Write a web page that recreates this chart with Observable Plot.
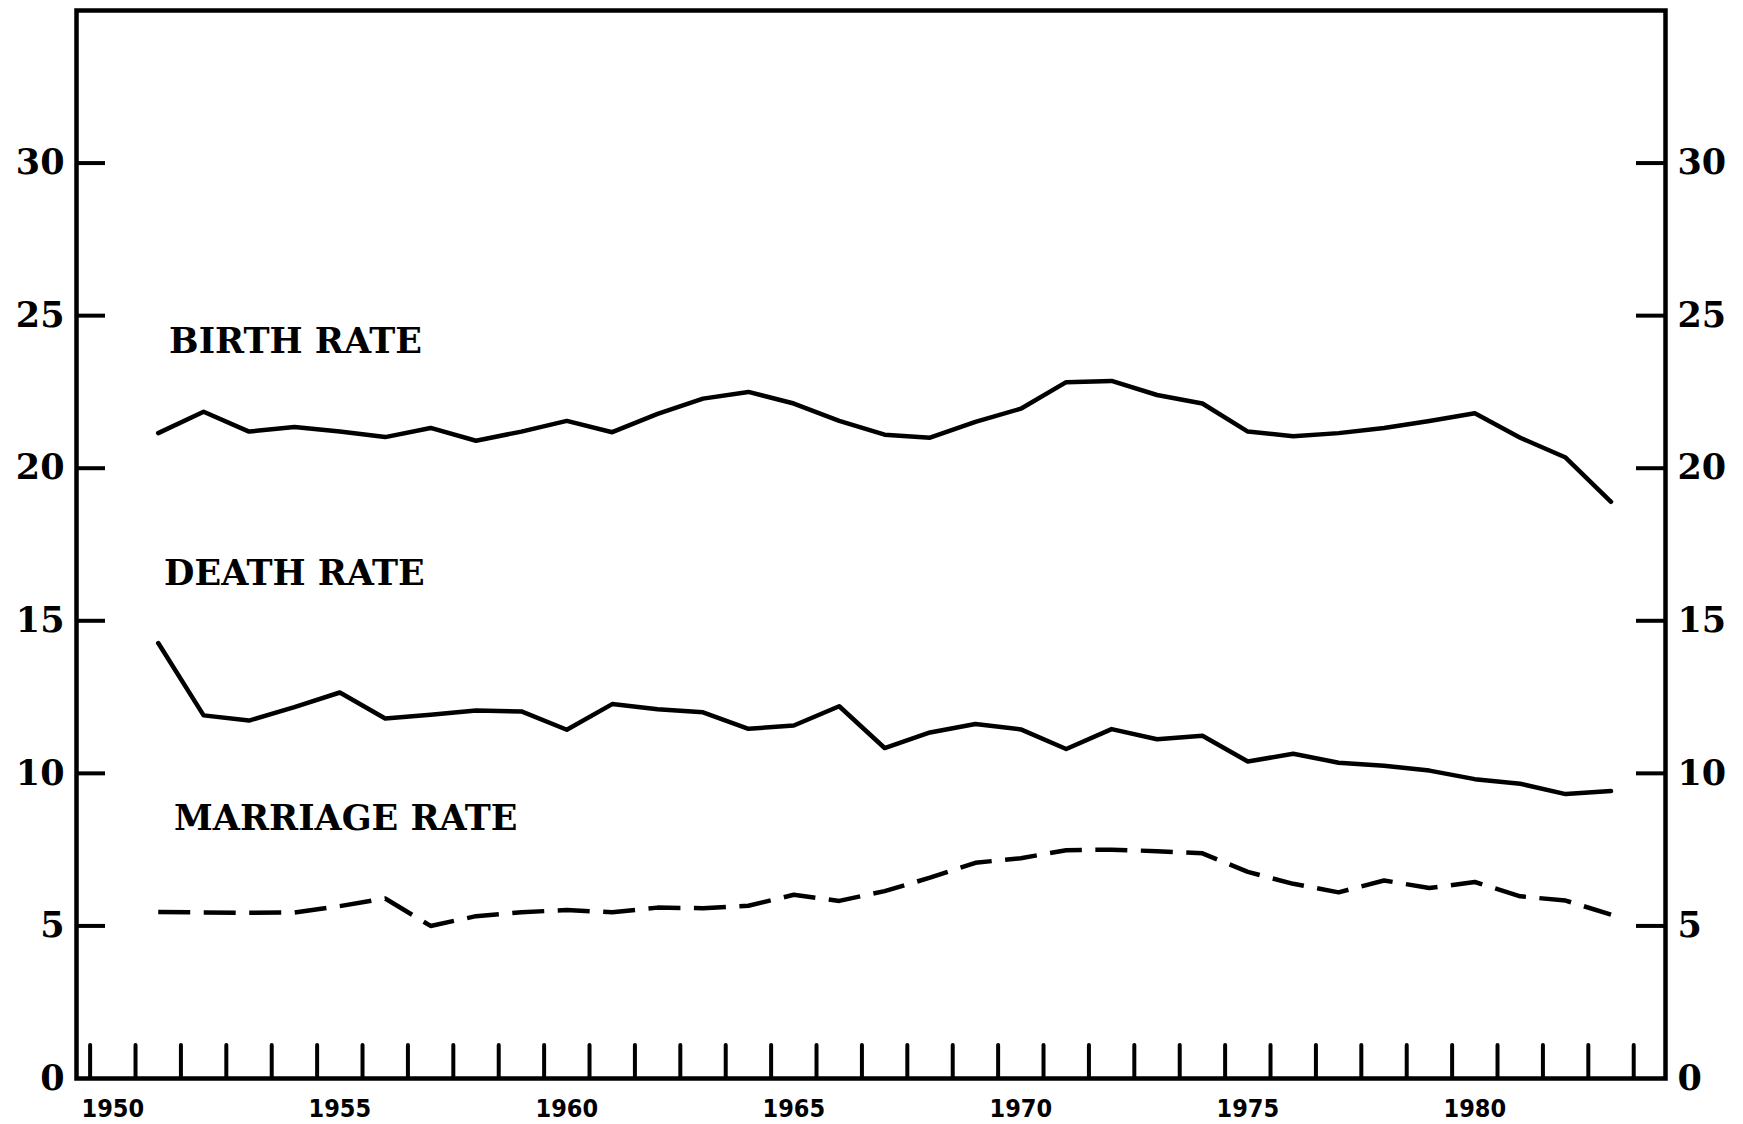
<!DOCTYPE html>
<html><head><meta charset="utf-8">
<script src="https://cdn.jsdelivr.net/npm/d3@7"></script>
<script src="https://cdn.jsdelivr.net/npm/@observablehq/plot@0.6"></script>
<style>html,body{margin:0;padding:0;background:#fff;overflow:hidden}</style>
</head><body><div id="chart"></div>
<script>
const years = [1951,1952,1953,1954,1955,1956,1957,1958,1959,1960,1961,1962,1963,1964,1965,1966,1967,1968,1969,1970,1971,1972,1973,1974,1975,1976,1977,1978,1979,1980,1981,1982,1983];
const birthRate = [21.15,21.85,21.2,21.35,21.2,21.02,21.32,20.9,21.2,21.55,21.18,21.78,22.28,22.5,22.12,21.55,21.1,21.0,21.52,21.95,22.82,22.86,22.4,22.12,21.2,21.05,21.15,21.32,21.55,21.8,21.0,20.35,18.9];
const deathRate = [14.27,11.9,11.73,12.17,12.65,11.8,11.92,12.06,12.03,11.43,12.27,12.1,12.0,11.46,11.57,12.2,10.83,11.34,11.62,11.44,10.8,11.45,11.12,11.23,10.39,10.64,10.35,10.25,10.09,9.81,9.66,9.32,9.42];
const marriageRate = [5.46,5.44,5.43,5.44,5.65,5.9,5.0,5.32,5.45,5.52,5.45,5.6,5.58,5.66,6.02,5.82,6.14,6.58,7.07,7.22,7.48,7.5,7.45,7.38,6.77,6.38,6.1,6.49,6.24,6.44,5.97,5.83,5.37];
const yTickValues = [0,5,10,15,20,25,30];
const xLabelYears = [1950,1955,1960,1965,1970,1975,1980];
const xTickMarks = d3.range(1949.5, 1984, 1);
const seriesNames = ["BIRTH RATE","DEATH RATE","MARRIAGE RATE"];
const labelYears = [1951.24,1951.13,1951.35];
const labelValues = [24.14,16.54,8.5];

const W = 1743, H = 1124;
const mL = 76, mR = 78, mT = 10, mB = 46;
const plotW = W - mL - mR, plotH = H - mT - mB;

const rows = (vals) => years.map((yr, i) => ({year: yr, value: vals[i]}));
const labels = seriesNames.map((t, i) => ({text: t, year: labelYears[i], value: labelValues[i]}));

const serif = "'DejaVu Serif', 'Liberation Serif', serif";
const narrow = "'Liberation Sans Narrow', 'DejaVu Sans Condensed', 'Roboto Condensed', 'Liberation Sans', sans-serif";

const chart = Plot.plot({
  width: W, height: H,
  marginLeft: mL, marginRight: mR, marginTop: mT, marginBottom: mB,
  style: {background: "#fff", color: "#000", overflow: "visible"},
  x: {domain: [1949.2, 1984.2], axis: null},
  y: {domain: [0, 35], axis: null},
  marks: [
    Plot.ruleY(yTickValues.filter(v => v > 0), {y: d => d, insetRight: plotW - 29, stroke: "#000", strokeWidth: 4}),
    Plot.ruleY(yTickValues.filter(v => v > 0), {y: d => d, insetLeft: plotW - 29, stroke: "#000", strokeWidth: 4}),
    Plot.ruleX(xTickMarks, {x: d => d, insetTop: plotH - 33, stroke: "#000", strokeWidth: 4, strokeLinecap: "round"}),
    Plot.frame({stroke: "#000", strokeWidth: 4.5}),
    Plot.line(rows(birthRate), {x: "year", y: "value", stroke: "#000", strokeWidth: 4.5, strokeLinejoin: "round"}),
    Plot.line(rows(deathRate), {x: "year", y: "value", stroke: "#000", strokeWidth: 4.5, strokeLinejoin: "round"}),
    Plot.line(rows(marriageRate), {x: "year", y: "value", stroke: "#000", strokeWidth: 4.5, strokeDasharray: "32 13.5", strokeLinecap: "butt"}),
    Plot.text(yTickValues, {y: d => d, text: d => String(d), frameAnchor: "left", textAnchor: "end", dx: -12, fontSize: 35, fontWeight: "bold", fontFamily: serif, fill: "#000"}),
    Plot.text(yTickValues, {y: d => d, text: d => String(d), frameAnchor: "right", textAnchor: "start", dx: 12, fontSize: 35, fontWeight: "bold", fontFamily: serif, fill: "#000"}),
    Plot.text(xLabelYears, {x: d => d, text: d => String(d), frameAnchor: "bottom", lineAnchor: "middle", dy: 30, fontSize: 25, fontWeight: "bold", fontFamily: narrow, fill: "#000"}),
    Plot.text(labels, {x: "year", y: "value", text: "text", textAnchor: "start", lineAnchor: "middle", fontSize: 35, fontWeight: "bold", fontFamily: serif, fill: "#000"})
  ]
});
document.getElementById("chart").appendChild(chart);
</script>
</body></html>
